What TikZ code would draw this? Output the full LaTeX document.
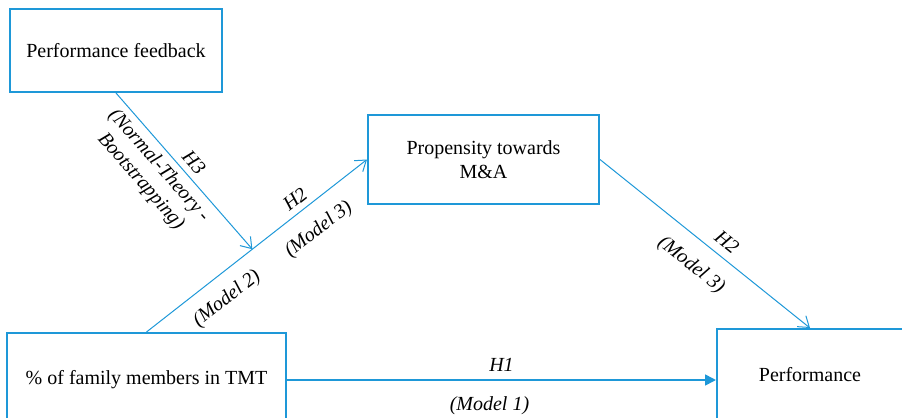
\documentclass[tikz,border=0pt]{standalone}
\usepackage{fontspec}
\setmainfont{Liberation Serif}
\usetikzlibrary{arrows.meta}
\definecolor{boxblue}{RGB}{30,152,216}

\begin{document}
\begin{tikzpicture}[x=0.5pt,y=-0.5pt,
    varbox/.style={draw=boxblue,line width=1pt,fill=white,align=center,inner sep=2pt,font=\fontsize{10}{12}\selectfont},
    link/.style={draw=boxblue,line width=0.5pt,-{Straight Barb[length=5pt,width=7pt]}},
    hyp/.style={font=\fontsize{10}{12}\selectfont\itshape,sloped,inner sep=3pt}]
  \useasboundingbox (0,0) rectangle (902,418);
  \clip (0,0) rectangle (902,418);
  % variables
  \node[varbox,minimum width=106pt,minimum height=41.5pt] (pf) at (116,50.5) {Performance feedback};
  \node[varbox,minimum width=115.5pt,minimum height=44.5pt] (prop) at (483.5,159.5) {Propensity towards\\M\&A};
  \node[varbox,minimum width=139.5pt,minimum height=47pt] (fam) at (146.5,380) {\% of family members in TMT};
  \node[varbox,minimum width=93pt,minimum height=46pt] (perf) at (810,375) {Performance};
  % paths
  \draw[link] (fam.north) -- coordinate[pos=0.48] (mod)
    node[hyp,above,pos=0.71] {H2}
    node[hyp,below=5pt,pos=0.71] {(Model 3)}
    node[hyp,below=4pt,pos=0.3] {(Model 2)} (prop.west);
  \draw[link] (pf.south) --
    node[hyp,above,pos=0.5] {H3}
    node[hyp,below,align=center,pos=0.4] {(Normal-Theory -\\Bootstrapping)} (mod);
  \draw[link] (prop.east) --
    node[hyp,above=1pt,pos=0.56] {H2}
    node[hyp,below=5pt,pos=0.51] {(Model 3)} (perf.north);
  \draw[draw=boxblue,line width=0.8pt,-{Triangle[length=5.5pt,width=5.5pt]}] (fam.east) --
    node[hyp,above=1pt] {H1}
    node[hyp,below=5pt,xshift=-6pt] {(Model 1)} (fam.east -| perf.west);
\end{tikzpicture}
\end{document}
